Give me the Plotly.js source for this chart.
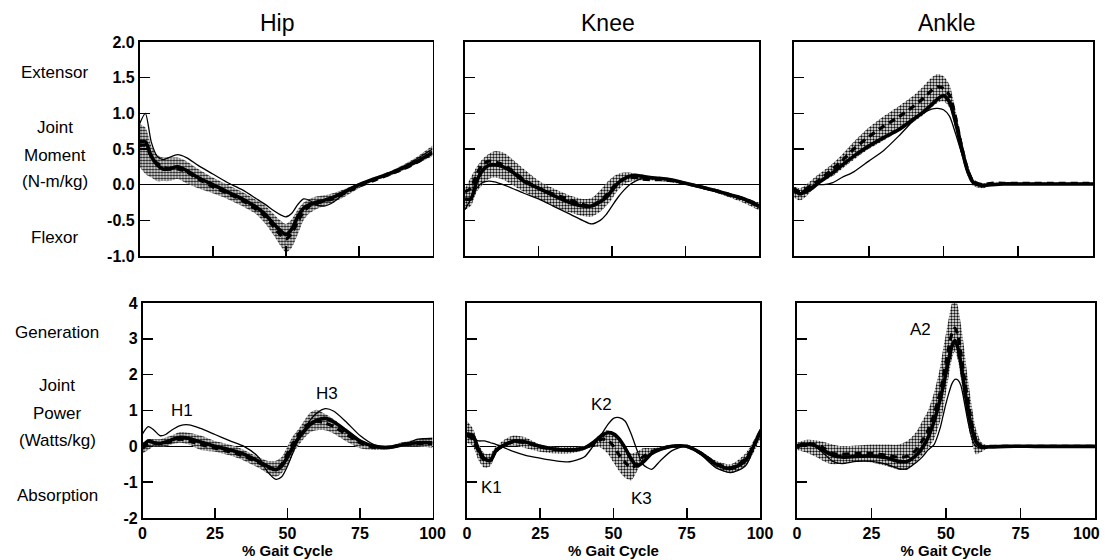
<!DOCTYPE html>
<html><head><meta charset="utf-8">
<script src="https://cdn.plot.ly/plotly-3.0.1.min.js"></script>
<style>html,body{margin:0;padding:0;background:#fff}#chart{width:1105px;height:560px}</style>
</head><body><div id="chart"></div>
<script>
// % gait cycle sample points
const X = [0,2,4,6,8,10,13,16,20,25,30,35,40,43,46,48,50,52,54,56,58,60,63,66,70,75,80,85,90,95,100];
const XAP = [0,3,6,9,12,15,20,25,30,34,37,40,42,44,46,48,49,50,51,52,53,54,55,56,57,58,59,60,62,64,70,80,90,100];

// Hip moment (N-m/kg)
const HM_HI = [0.85,0.8,0.55,0.42,0.38,0.38,0.38,0.33,0.22,0.1,0.0,-0.1,-0.22,-0.3,-0.42,-0.5,-0.55,-0.48,-0.35,-0.25,-0.2,-0.17,-0.15,-0.12,-0.06,0.02,0.1,0.18,0.28,0.4,0.55];
const HM_LO = [0.25,0.15,0.1,0.05,0.05,0.05,0.08,0.02,-0.05,-0.12,-0.2,-0.3,-0.42,-0.55,-0.72,-0.85,-0.95,-0.88,-0.7,-0.5,-0.4,-0.35,-0.3,-0.25,-0.17,-0.05,0.05,0.12,0.2,0.3,0.4];
const HM_THICK = [0.6,0.6,0.4,0.28,0.22,0.22,0.25,0.2,0.1,0.0,-0.1,-0.2,-0.32,-0.42,-0.56,-0.64,-0.7,-0.62,-0.45,-0.33,-0.28,-0.25,-0.22,-0.18,-0.1,0.0,0.08,0.15,0.24,0.33,0.45];
const HM_DASH = [0.55,0.55,0.4,0.3,0.25,0.22,0.22,0.18,0.08,-0.03,-0.12,-0.22,-0.35,-0.45,-0.6,-0.7,-0.76,-0.68,-0.52,-0.38,-0.3,-0.27,-0.23,-0.2,-0.12,-0.02,0.06,0.14,0.22,0.32,0.45];
const HM_THIN = [0.85,1.0,0.6,0.4,0.35,0.38,0.42,0.38,0.27,0.15,0.03,-0.07,-0.2,-0.28,-0.37,-0.42,-0.45,-0.4,-0.28,-0.2,-0.22,-0.28,-0.3,-0.25,-0.12,0.0,0.08,0.16,0.25,0.37,0.5];

// Knee moment (N-m/kg)
const KM_HI = [-0.05,0.1,0.25,0.36,0.43,0.47,0.45,0.36,0.22,0.06,-0.05,-0.14,-0.2,-0.19,-0.08,0.02,0.1,0.15,0.17,0.17,0.15,0.13,0.11,0.1,0.07,0.03,-0.02,-0.08,-0.13,-0.19,-0.25];
const KM_LO = [-0.35,-0.3,-0.1,0.0,0.08,0.1,0.07,0.0,-0.1,-0.2,-0.3,-0.38,-0.44,-0.45,-0.38,-0.3,-0.2,-0.08,0.0,0.04,0.06,0.06,0.06,0.05,0.03,0.0,-0.05,-0.11,-0.18,-0.26,-0.36];
const KM_THICK = [-0.2,-0.2,0.05,0.2,0.27,0.28,0.25,0.18,0.05,-0.05,-0.15,-0.24,-0.3,-0.3,-0.24,-0.18,-0.08,0.02,0.08,0.12,0.13,0.12,0.1,0.09,0.07,0.02,-0.03,-0.08,-0.14,-0.2,-0.3];
const KM_DASH = [-0.1,-0.05,0.15,0.28,0.33,0.32,0.28,0.2,0.07,-0.05,-0.13,-0.2,-0.28,-0.3,-0.22,-0.15,-0.05,0.03,0.08,0.1,0.1,0.08,0.07,0.07,0.06,0.02,-0.03,-0.08,-0.14,-0.2,-0.28];
const KM_THIN = [-0.35,-0.2,-0.05,0.03,0.05,0.04,0.0,-0.05,-0.12,-0.2,-0.3,-0.4,-0.5,-0.55,-0.5,-0.42,-0.3,-0.18,-0.08,0.0,0.05,0.08,0.08,0.08,0.06,0.02,-0.04,-0.09,-0.15,-0.22,-0.32];

// Ankle moment (N-m/kg)
const AM_HI = [-0.03,-0.05,0.0,0.07,0.14,0.2,0.3,0.42,0.6,0.8,0.96,1.1,1.25,1.37,1.5,1.55,1.52,1.4,1.05,0.65,0.3,0.08,0.02,0.03,0.03,0.03,0.03,0.03,0.03,0.03,0.03];
const AM_LO = [-0.18,-0.22,-0.17,-0.08,-0.01,0.05,0.12,0.22,0.35,0.5,0.62,0.75,0.88,0.97,1.08,1.15,1.17,1.08,0.78,0.42,0.13,-0.02,-0.05,-0.01,0.0,0.0,0.0,0.0,0.0,0.0,0.0];
const AM_THICK = [-0.08,-0.13,-0.1,-0.05,0.02,0.08,0.17,0.27,0.4,0.54,0.66,0.77,0.92,1.01,1.12,1.2,1.25,1.16,0.88,0.52,0.2,0.03,-0.01,0.0,0.01,0.01,0.01,0.01,0.01,0.01,0.01];
const AM_DASH = [-0.05,-0.1,-0.06,0.0,0.05,0.12,0.22,0.33,0.5,0.67,0.82,0.95,1.1,1.2,1.32,1.37,1.35,1.25,0.95,0.55,0.22,0.04,0.0,0.02,0.02,0.02,0.02,0.02,0.02,0.02,0.02];
const AM_THIN = [-0.1,-0.12,-0.05,-0.02,0.0,0.0,0.03,0.1,0.18,0.33,0.48,0.68,0.9,1.0,1.06,1.07,1.05,0.96,0.72,0.45,0.2,0.02,0.0,0.01,0.01,0.01,0.01,0.01,0.01,0.01,0.01];

// Hip power (Watts/kg)
const HP_HI = [0.1,0.2,0.2,0.2,0.25,0.3,0.4,0.38,0.3,0.15,0.05,-0.1,-0.3,-0.4,-0.4,-0.3,0.0,0.3,0.5,0.75,0.95,1.02,0.9,0.75,0.5,0.2,0.03,0.02,0.12,0.2,0.25];
const HP_LO = [-0.2,-0.1,0.0,0.0,0.0,0.05,0.1,0.05,-0.1,-0.15,-0.25,-0.4,-0.6,-0.75,-0.85,-0.75,-0.55,-0.2,0.05,0.25,0.4,0.45,0.45,0.35,0.15,-0.05,-0.1,-0.08,0.0,0.0,-0.05];
const HP_THICK = [0.0,0.15,0.1,0.08,0.12,0.18,0.25,0.22,0.12,0.0,-0.1,-0.22,-0.42,-0.55,-0.65,-0.55,-0.3,0.0,0.25,0.45,0.62,0.72,0.78,0.68,0.45,0.15,0.0,-0.03,0.05,0.1,0.1];
const HP_DASH = [-0.05,0.05,0.08,0.08,0.1,0.12,0.2,0.15,0.05,-0.05,-0.15,-0.28,-0.45,-0.58,-0.65,-0.5,-0.2,0.1,0.35,0.55,0.65,0.7,0.65,0.55,0.35,0.1,-0.03,-0.03,0.05,0.08,0.08];
const HP_THIN = [0.35,0.55,0.45,0.3,0.33,0.45,0.58,0.6,0.5,0.33,0.16,0.0,-0.3,-0.7,-0.92,-0.85,-0.55,-0.15,0.25,0.5,0.75,0.92,1.05,0.98,0.7,0.3,0.04,-0.04,0.05,0.2,0.22];

// Knee power (Watts/kg)
const KP_HI = [0.7,0.5,0.05,-0.2,-0.2,0.0,0.2,0.3,0.25,0.05,-0.02,-0.02,0.0,0.15,0.38,0.45,0.35,0.15,-0.05,-0.2,-0.15,-0.05,-0.05,-0.02,0.05,0.02,-0.15,-0.4,-0.5,-0.2,0.5];
const KP_LO = [0.1,0.0,-0.4,-0.6,-0.55,-0.2,0.0,0.02,-0.05,-0.15,-0.2,-0.2,-0.1,0.0,-0.05,-0.2,-0.45,-0.7,-0.88,-0.95,-0.7,-0.4,-0.25,-0.12,-0.02,-0.02,-0.25,-0.6,-0.75,-0.55,0.2];
const KP_THICK = [0.35,0.3,-0.1,-0.35,-0.4,-0.1,0.05,0.15,0.12,0.0,-0.08,-0.1,-0.05,0.1,0.3,0.38,0.35,0.2,-0.05,-0.35,-0.55,-0.45,-0.2,-0.08,0.0,0.0,-0.2,-0.5,-0.62,-0.4,0.4];
const KP_DASH = [0.3,0.2,-0.15,-0.4,-0.38,-0.12,0.05,0.12,0.1,-0.02,-0.08,-0.1,-0.05,0.05,0.2,0.18,0.0,-0.25,-0.45,-0.6,-0.5,-0.3,-0.15,-0.08,0.0,0.0,-0.2,-0.48,-0.6,-0.35,0.35];
const KP_THIN = [0.3,0.2,0.15,0.15,0.1,0.05,-0.05,-0.15,-0.25,-0.33,-0.4,-0.43,-0.3,0.0,0.35,0.6,0.78,0.8,0.7,0.35,-0.1,-0.5,-0.64,-0.4,-0.12,0.0,-0.25,-0.6,-0.73,-0.55,0.47];

// Ankle power (Watts/kg), on XAP
const AP_HI = [0.1,0.18,0.17,0.12,0.05,0.0,0.02,0.05,0.05,0.05,0.15,0.4,0.7,1.0,1.5,2.2,2.7,3.15,3.6,4.0,4.15,3.9,3.4,2.8,2.1,1.5,0.95,0.5,0.1,0.03,0.02,0.02,0.02,0.02];
const AP_LO = [-0.1,-0.17,-0.28,-0.42,-0.5,-0.48,-0.43,-0.45,-0.55,-0.65,-0.65,-0.45,-0.25,-0.05,0.2,0.7,1.0,1.5,2.0,2.45,2.65,2.4,1.9,1.3,0.8,0.35,0.0,-0.22,-0.15,-0.05,-0.02,-0.02,-0.02,-0.02];
const AP_THICK = [0.0,0.05,0.02,-0.12,-0.25,-0.3,-0.28,-0.27,-0.32,-0.42,-0.42,-0.25,-0.05,0.25,0.7,1.3,1.65,2.05,2.45,2.8,2.95,2.75,2.3,1.75,1.2,0.75,0.4,0.15,-0.03,-0.02,0.0,0.0,0.0,0.0];
const AP_DASH = [0.02,0.08,0.05,-0.05,-0.2,-0.22,-0.2,-0.2,-0.25,-0.3,-0.28,-0.1,0.15,0.45,0.9,1.5,1.9,2.35,2.8,3.15,3.3,3.1,2.6,2.0,1.45,0.95,0.5,0.2,0.0,0.0,0.0,0.0,0.0,0.0];
const AP_THIN = [-0.05,0.05,0.0,-0.2,-0.42,-0.48,-0.42,-0.42,-0.5,-0.62,-0.62,-0.45,-0.3,-0.1,0.05,0.5,0.85,1.2,1.5,1.75,1.87,1.85,1.7,1.3,0.85,0.45,0.15,0.0,-0.05,-0.02,0.0,0.0,0.0,0.0];

// Text
const COLUMN_TITLES = ['Hip','Knee','Ankle'];
const X_TICKS = [0,25,50,75,100];
const X_TICKTEXT = ['0','25','50','75','100'];
const MOM_TICKS = [-1,-0.5,0,0.5,1,1.5,2];
const MOM_TICKTEXT = ['-1.0','-0.5','0.0','0.5','1.0','1.5','2.0'];
const POW_TICKS = [-2,-1,0,1,2,3,4];
const POW_TICKTEXT = ['-2','-1','0','1','2','3','4'];
const MOM_LABELS = ['Extensor','Joint','Moment','(N-m/kg)','Flexor'];
const POW_LABELS = ['Generation','Joint','Power','(Watts/kg)','Absorption'];
const PEAK_LABELS = ['H1','H3','K1','K2','K3','A2'];
const PEAK_X = [13.6,63.5,8.4,46,59.7,41.3];
const PEAK_Y = [0.99,1.48,-1.15,1.17,-1.45,3.27];
const PEAK_PANEL = [4,4,5,5,5,6];
const X_TITLE = '% Gait Cycle';

const panels = [
  {x:X, hi:HM_HI, lo:HM_LO, thick:HM_THICK, dash:HM_DASH, thin:HM_THIN},
  {x:X, hi:KM_HI, lo:KM_LO, thick:KM_THICK, dash:KM_DASH, thin:KM_THIN},
  {x:X, hi:AM_HI, lo:AM_LO, thick:AM_THICK, dash:AM_DASH, thin:AM_THIN},
  {x:X, hi:HP_HI, lo:HP_LO, thick:HP_THICK, dash:HP_DASH, thin:HP_THIN},
  {x:X, hi:KP_HI, lo:KP_LO, thick:KP_THICK, dash:KP_DASH, thin:KP_THIN},
  {x:XAP, hi:AP_HI, lo:AP_LO, thick:AP_THICK, dash:AP_DASH, thin:AP_THIN}
];

const W = 1105, H = 560;
const colPx = [[[139.5,432.5],[465,759],[794,1093]],[[142.5,432.5],[467,760],[797,1095]]];
const rowPx = [[42,256],[303,518]];
const FONT = 'Liberation Sans, Arial, Helvetica, sans-serif';
const SM = {shape:'spline', smoothing:0.7};
const TICKFONT = {family:FONT, size:16, weight:'bold', color:'#000'};

const traces = [];
const layout = {
  width:W, height:H, margin:{l:0,r:0,t:0,b:0},
  paper_bgcolor:'#fff', plot_bgcolor:'#fff', showlegend:false,
  font:{family:FONT, color:'#000'}, annotations:[]
};

panels.forEach((p,i)=>{
  const n = i+1, sfx = n===1?'':String(n);
  const xa = 'x'+sfx, ya = 'y'+sfx;
  traces.push({x:p.x, y:p.lo, xaxis:xa, yaxis:ya, mode:'lines', line:Object.assign({width:0,color:'#000'},SM), hoverinfo:'skip'});
  traces.push({x:p.x, y:p.hi, xaxis:xa, yaxis:ya, mode:'lines', line:Object.assign({width:0,color:'#000'},SM), fill:'tonexty',
    fillcolor:'rgba(150,150,150,1)',
    fillpattern:{shape:'.', fgcolor:'#111', bgcolor:'#fff', size:3, solidity:0.5}, hoverinfo:'skip'});
  traces.push({x:p.x, y:p.thin, xaxis:xa, yaxis:ya, mode:'lines', line:Object.assign({width:1.3,color:'#000'},SM)});
  traces.push({x:p.x, y:p.thick, xaxis:xa, yaxis:ya, mode:'lines', line:Object.assign({width:3.6,color:'#000'},SM)});
  traces.push({x:p.x, y:p.dash, xaxis:xa, yaxis:ya, mode:'lines', line:Object.assign({width:3.2,color:'#000',dash:'7px,5px'},SM)});

  const row = i<3?0:1, col = i%3;
  const cx = colPx[row][col], ry = rowPx[row];
  const top = row===0;
  const lastCol = (!top && col===2);
  // the last "100" at the right page edge is placed as an annotation so it is not cut off
  const tt = lastCol ? X_TICKTEXT.slice(0,4).concat(['']) : X_TICKTEXT;
  layout['xaxis'+sfx] = {
    anchor:ya, domain:[cx[0]/W, cx[1]/W], range:[0,100], fixedrange:true,
    showline:true, mirror:true, linecolor:'#000', linewidth:1.6,
    ticks:'inside', ticklen:10, tickwidth:1.6, tickcolor:'#000',
    tickvals:X_TICKS, ticktext:tt, showticklabels:!top,
    tickfont:TICKFONT,
    showgrid:false, zeroline:false,
    title: top ? {text:''} : {text:X_TITLE, font:{family:FONT, size:15, weight:'bold', color:'#000'}, standoff:2}
  };
  layout['yaxis'+sfx] = {
    anchor:xa, domain:[1-ry[1]/H, 1-ry[0]/H], range: top?[-1,2]:[-2,4], fixedrange:true,
    showline:true, mirror:true, linecolor:'#000', linewidth:1.6,
    ticks:'inside', ticklen:10, tickwidth:1.6, tickcolor:'#000',
    tickvals: top?MOM_TICKS:POW_TICKS, ticktext: top?MOM_TICKTEXT:POW_TICKTEXT,
    showticklabels: col===0,
    tickfont:TICKFONT,
    showgrid:false, zeroline:true, zerolinecolor:'#000', zerolinewidth:1.1
  };
});

// last x tick label of the ankle power panel, kept inside the page
layout.annotations.push({text:X_TICKTEXT[4], xref:'paper', yref:'paper', x:1102/W, y:1-533/H,
  xanchor:'right', yanchor:'middle', showarrow:false, font:TICKFONT});

// column titles
const titleX = [277, 608, 947];
COLUMN_TITLES.forEach((t,i)=>{
  layout.annotations.push({text:t, xref:'paper', yref:'paper', x:titleX[i]/W, y:1-23/H,
    xanchor:'center', yanchor:'middle', showarrow:false, font:{family:FONT, size:23, color:'#000'}});
});
// side labels
const momY = [73,128,155,182,237], powY = [332,385,413,440,495];
MOM_LABELS.forEach((t,i)=>layout.annotations.push({text:t, xref:'paper', yref:'paper', x:55/W, y:1-momY[i]/H,
  xanchor:'center', yanchor:'middle', showarrow:false, font:{family:FONT, size:17, color:'#000'}}));
POW_LABELS.forEach((t,i)=>layout.annotations.push({text:t, xref:'paper', yref:'paper', x:57/W, y:1-powY[i]/H,
  xanchor:'center', yanchor:'middle', showarrow:false, font:{family:FONT, size:17, color:'#000'}}));
// peak labels
PEAK_LABELS.forEach((t,i)=>{
  const s = String(PEAK_PANEL[i]);
  layout.annotations.push({text:t, xref:'x'+s, yref:'y'+s, x:PEAK_X[i], y:PEAK_Y[i],
    xanchor:'center', yanchor:'middle', showarrow:false, font:{family:FONT, size:17, color:'#000'}});
});

Plotly.newPlot('chart', traces, layout, {staticPlot:true, displayModeBar:false});
</script>
</body></html>
